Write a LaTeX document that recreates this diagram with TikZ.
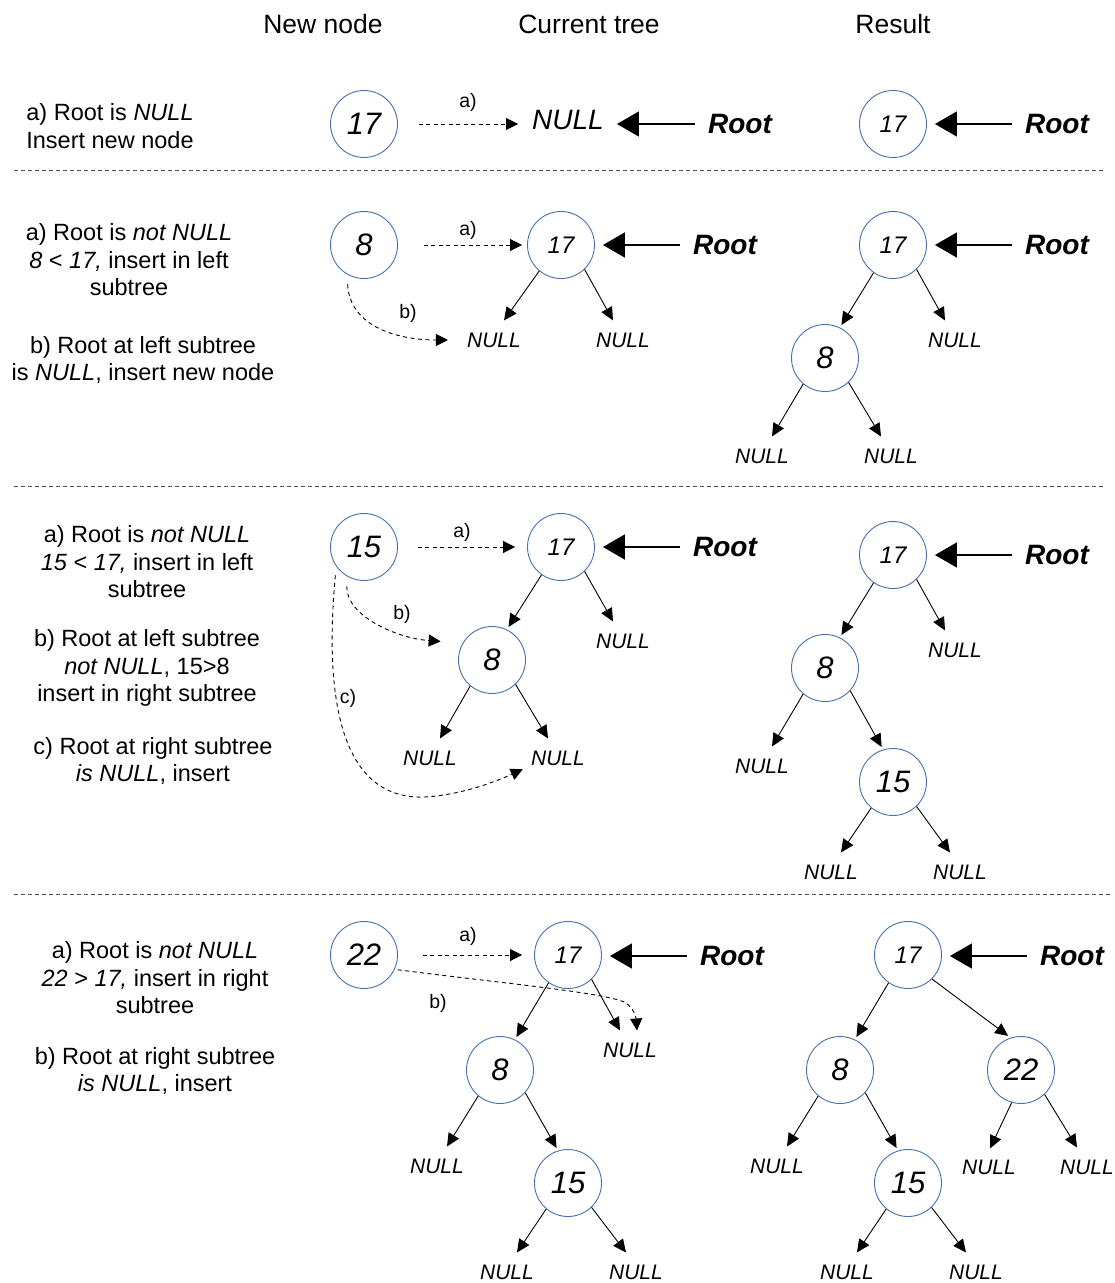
\documentclass[tikz,border=0pt]{standalone}
\usepackage{fontspec}
\setmainfont{Liberation Sans}
\usetikzlibrary{arrows.meta,calc}
\definecolor{nodeblue}{RGB}{68,114,180}
\definecolor{sepgray}{RGB}{80,80,80}
\newcommand\lnull[2]{\draw[tarrow] (#1.230) -- ($(#2.north)+(10,-12)$);}
\newcommand\rnull[2]{\draw[tarrow] (#1.-46) -- ($(#2.north)+(-10,-12)$);}
\newcommand\lkid[2]{\draw[kidarrow] (#1.235) -- (#2.64);}
\newcommand\rkid[2]{\draw[kidarrow] (#1.-42) -- (#2.107);}
\begin{document}
\begin{tikzpicture}[x=1pt,y=-1pt,
 hdr/.style={inner sep=0, font=\fontsize{26.5}{30}\selectfont},
 txt/.style={font=\fontsize{23.5}{27.5}\selectfont, align=center, inner sep=0},
 cbig/.style={circle, draw=nodeblue, line width=0.9pt, minimum size=67pt, inner sep=0, font=\fontsize{31}{34}\selectfont\itshape},
 csmall/.style={cbig, font=\fontsize{24}{28}\selectfont\itshape},
 nul/.style={inner sep=0, font=\fontsize{21}{24}\selectfont\itshape},
 bignul/.style={inner sep=0, font=\fontsize{28}{30}\selectfont\itshape},
 rootlbl/.style={inner sep=0, font=\fontsize{28}{30}\selectfont\bfseries\itshape},
 lbl/.style={inner sep=0, font=\fontsize{19.5}{22}\selectfont},
 tarrow/.style={-{Triangle[length=13pt,width=12pt]}, line width=0.9pt},
 kidarrow/.style={tarrow, shorten >=3pt},
 dasharrow/.style={-{Triangle[length=12pt,width=12pt]}, line width=0.9pt, dash pattern=on 4pt off 3.5pt},
 rootarrow/.style={-{Triangle[length=22pt,width=25pt]}, line width=1.6pt, shorten <=13pt, shorten >=8pt},
 sepline/.style={sepgray, line width=0.9pt, dash pattern=on 4pt off 3pt}
]
\useasboundingbox (0,0) rectangle (1115,1283);
\fill[white] (0,0) rectangle (1115,1283);

% headers
\node[hdr] (h1) at (323,24) {New node};
\node[hdr] (h2) at (589,24) {Current tree};
\node[hdr] (h3) at (893,24) {Result};

% separators
\coordinate (s1a) at (14,170); \coordinate (s1b) at (1105,170);
\coordinate (s2a) at (14,486); \coordinate (s2b) at (1105,486);
\coordinate (s3a) at (14,894); \coordinate (s3b) at (1110,894);
\draw[sepline] (s1a) -- (s1b);
\draw[sepline] (s2a) -- (s2b);
\draw[sepline] (s3a) -- (s3b);

% ---------- Row 1
\node[txt] (t1) at (110,126) {a) Root is \textit{NULL}\\Insert new node};
\node[cbig] (a17) at (364,124) {17};
\node[bignul] (aN) at (568,120) {NULL};
\node[rootlbl] (aR) at (740,124) {Root};
\node[csmall] (ax17) at (893,124) {17};
\node[rootlbl] (axR) at (1057,124) {Root};
\draw[dasharrow, shorten <=21pt, shorten >=14pt] (a17.east) -- (a17.east -| aN.west);
\node[lbl] (la1) at (468,102) {a)};
\draw[rootarrow, shorten >=13pt] (aR.west) -- (aR.west -| aN.east);
\draw[rootarrow] (axR.west) -- (axR.west -| ax17.east);

% ---------- Row 2
\node[txt] (t2a) at (129,260) {a) Root is \textit{not NULL}\\\textit{8} < \textit{17,} insert in left\\subtree};
\node[txt] (t2b) at (143,360) {b) Root at left subtree\\is \textit{NULL}, insert new node};
\node[cbig] (b8) at (364,245) {8};
\node[csmall] (b17) at (561,245) {17};
\node[rootlbl] (bR) at (725,245) {Root};
\node[nul] (bN1) at (494,340) {NULL};
\node[nul] (bN2) at (623,340) {NULL};
\draw[dasharrow, shorten <=26pt, shorten >=5pt] (b8.east) -- (b8.east -| b17.west);
\node[lbl] (la2) at (468,230) {a)};
\draw[dasharrow, shorten <=10pt, shorten >=19pt] (b8.240) .. controls (350,328) and (400,340) .. (bN1.west);
\node[lbl] (lb2) at (408,313) {b)};
\draw[rootarrow] (bR.west) -- (bR.west -| b17.east);
\lnull{b17}{bN1}
\rnull{b17}{bN2}
\node[csmall] (bx17) at (893,245) {17};
\node[rootlbl] (bxR) at (1057,245) {Root};
\node[cbig] (bx8) at (825,358) {8};
\node[nul] (bxN1) at (955,340) {NULL};
\node[nul] (bxN2) at (762,456) {NULL};
\node[nul] (bxN3) at (891,456) {NULL};
\draw[rootarrow] (bxR.west) -- (bxR.west -| bx17.east);
\lkid{bx17}{bx8}
\rnull{bx17}{bxN1}
\lnull{bx8}{bxN2}
\rnull{bx8}{bxN3}

% ---------- Row 3
\node[txt] (t3a) at (147,562) {a) Root is \textit{not NULL}\\\textit{15} < \textit{17,} insert in left\\subtree};
\node[txt] (t3b) at (147,668) {b) Root at left subtree\\\textit{not NULL}, 15>8\\insert in right subtree};
\node[txt] (t3c) at (153,761) {c) Root at right subtree\\\textit{is NULL}, insert};
\node[cbig] (c15) at (364,547) {15};
\node[csmall] (c17) at (561,547) {17};
\node[rootlbl] (cR) at (725,547) {Root};
\node[cbig] (c8) at (492,660) {8};
\node[nul] (cN1) at (623,641) {NULL};
\node[nul] (cN2) at (430,758) {NULL};
\node[nul] (cN3) at (558,758) {NULL};
\draw[dasharrow, shorten <=20pt, shorten >=12pt] (c15.east) -- (c15.east -| c17.west);
\node[lbl] (la3) at (462,532) {a)};
\draw[dasharrow, shorten <=10pt, shorten >=22pt] (c15.240) .. controls (346,615) and (395,638) .. (c8.150);
\node[lbl] (lb3) at (402,614) {b)};
\draw[dasharrow, shorten <=9pt, shorten >=9pt] (c15.215) .. controls (322,720) and (350,800) .. (425,797) .. controls (460,795) and (495,782) .. (cN3.south west);
\node[lbl] (lc3) at (348,698) {c)};
\draw[rootarrow] (cR.west) -- (cR.west -| c17.east);
\lkid{c17}{c8}
\rnull{c17}{cN1}
\lnull{c8}{cN2}
\rnull{c8}{cN3}
\node[csmall] (cx17) at (893,555) {17};
\node[rootlbl] (cxR) at (1057,555) {Root};
\node[cbig] (cx8) at (825,668) {8};
\node[nul] (cxN1) at (955,650) {NULL};
\node[nul] (cxN2) at (762,766) {NULL};
\node[cbig] (cx15) at (893,782) {15};
\node[nul] (cxN3) at (831,872) {NULL};
\node[nul] (cxN4) at (960,872) {NULL};
\draw[rootarrow] (cxR.west) -- (cxR.west -| cx17.east);
\lkid{cx17}{cx8}
\rnull{cx17}{cxN1}
\lnull{cx8}{cxN2}
\rkid{cx8}{cx15}
\lnull{cx15}{cxN3}
\rnull{cx15}{cxN4}

% ---------- Row 4
\node[txt] (t4a) at (155,978) {a) Root is \textit{not NULL}\\\textit{22} > \textit{17,} insert in right\\subtree};
\node[txt] (t4b) at (155,1071) {b) Root at right subtree\\\textit{is NULL}, insert};
\node[cbig] (d22) at (364,955) {22};
\node[csmall] (d17) at (568,955) {17};
\node[rootlbl] (dR) at (732,956) {Root};
\node[cbig] (d8) at (500,1070) {8};
\node[nul] (dN1) at (630,1050) {NULL};
\node[nul] (dN2) at (437,1166) {NULL};
\node[cbig] (d15) at (568,1183) {15};
\node[nul] (dN3) at (507,1272) {NULL};
\node[nul] (dN4) at (636,1272) {NULL};
\draw[dasharrow, shorten <=25pt, shorten >=12pt] (d22.east) -- (d22.east -| d17.west);
\node[lbl] (la4) at (468,936) {a)};
\coordinate (dtip) at ($(dN1.north)+(7,-12)$);
\draw[dasharrow, shorten <=3pt] (d22.335) .. controls (500,983) and (610,993) .. (626,1003) .. controls (633,1008) and (636,1016) .. (dtip);
\node[lbl] (lb4) at (438,1003) {b)};
\draw[rootarrow] (dR.west) -- (dR.west -| d17.east);
\lkid{d17}{d8}
\rnull{d17}{dN1}
\lnull{d8}{dN2}
\rkid{d8}{d15}
\lnull{d15}{dN3}
\rnull{d15}{dN4}
\node[csmall] (dx17) at (908,955) {17};
\node[rootlbl] (dxR) at (1072,956) {Root};
\node[cbig] (dx8) at (840,1070) {8};
\node[cbig] (dx22) at (1021,1070) {22};
\node[nul] (dxN1) at (777,1166) {NULL};
\node[cbig] (dx15) at (908,1183) {15};
\node[nul] (dxN2) at (847,1272) {NULL};
\node[nul] (dxN3) at (976,1272) {NULL};
\node[nul] (dxN4) at (989,1167) {NULL};
\node[nul] (dxN5) at (1087,1167) {NULL};
\draw[rootarrow] (dxR.west) -- (dxR.west -| dx17.east);
\lkid{dx17}{dx8}
\draw[kidarrow] (dx17.-45) -- (dx22.108);
\lnull{dx8}{dxN1}
\rkid{dx8}{dx15}
\lnull{dx15}{dxN2}
\rnull{dx15}{dxN3}
\draw[tarrow] (dx22.254) -- ($(dxN4.north)+(1,-11)$);
\rnull{dx22}{dxN5}
\end{tikzpicture}
\end{document}
